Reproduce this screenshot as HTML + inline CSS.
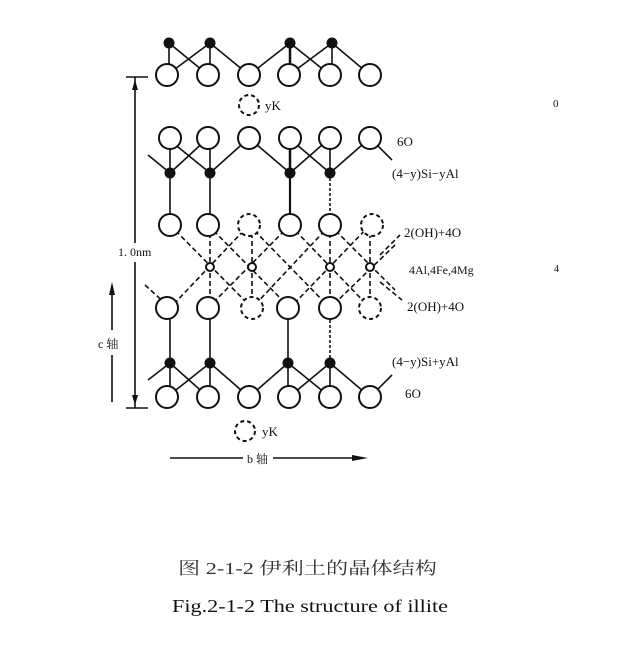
<!DOCTYPE html>
<html><head><meta charset="utf-8"><style>
body{margin:0;background:#fff;width:631px;height:648px;overflow:hidden}
text{font-family:"Liberation Serif","Noto Serif CJK SC",serif;fill:#111}
</style></head><body>
<svg width="631" height="648" viewBox="0 0 631 648" xmlns="http://www.w3.org/2000/svg">
<g stroke="#111" stroke-width="1.6" fill="none">
<line x1="169" y1="43" x2="169" y2="75"/><line x1="169" y1="43" x2="208" y2="75"/>
<line x1="210" y1="43" x2="210" y2="75"/><line x1="210" y1="43" x2="167" y2="75"/><line x1="210" y1="43" x2="249" y2="75"/>
<line x1="290" y1="43" x2="290" y2="75" stroke-width="2.5"/><line x1="290" y1="43" x2="249" y2="75"/><line x1="290" y1="43" x2="330" y2="75"/>
<line x1="332" y1="43" x2="332" y2="75"/><line x1="332" y1="43" x2="289" y2="75"/><line x1="332" y1="43" x2="370" y2="75"/>
<line x1="148" y1="155" x2="170" y2="173"/>
<line x1="170" y1="173" x2="170" y2="138"/><line x1="170" y1="173" x2="208" y2="138"/>
<line x1="210" y1="173" x2="210" y2="138"/><line x1="210" y1="173" x2="167" y2="138"/><line x1="210" y1="173" x2="249" y2="138"/>
<line x1="290" y1="173" x2="290" y2="138" stroke-width="2.5"/><line x1="290" y1="173" x2="249" y2="138"/><line x1="290" y1="173" x2="330" y2="138"/>
<line x1="330" y1="173" x2="330" y2="138"/><line x1="330" y1="173" x2="289" y2="138"/><line x1="330" y1="173" x2="370" y2="138"/>
<line x1="370" y1="138" x2="392" y2="160"/>
<line x1="170" y1="173" x2="170" y2="225"/><line x1="210" y1="173" x2="210" y2="225"/>
<line x1="290" y1="173" x2="290" y2="225" stroke-width="2.2"/><line x1="330" y1="173" x2="330" y2="225" stroke-dasharray="3 2"/>
<line x1="148" y1="380" x2="170" y2="363"/>
<line x1="170" y1="363" x2="170" y2="397"/><line x1="170" y1="363" x2="208" y2="397"/>
<line x1="210" y1="363" x2="210" y2="397"/><line x1="210" y1="363" x2="167" y2="397"/><line x1="210" y1="363" x2="249" y2="397"/>
<line x1="288" y1="363" x2="288" y2="397"/><line x1="288" y1="363" x2="249" y2="397"/><line x1="288" y1="363" x2="330" y2="397"/>
<line x1="330" y1="363" x2="330" y2="397"/><line x1="330" y1="363" x2="289" y2="397"/><line x1="330" y1="363" x2="370" y2="397"/>
<line x1="370" y1="397" x2="392" y2="375"/>
<line x1="170" y1="363" x2="170" y2="308"/><line x1="210" y1="363" x2="210" y2="308"/>
<line x1="288" y1="363" x2="288" y2="308"/><line x1="330" y1="363" x2="330" y2="308" stroke-dasharray="3 2"/>
</g>
<g stroke="#111" stroke-width="1.6" fill="none" stroke-dasharray="5 3">
<line x1="145" y1="285" x2="167" y2="305"/>
<line x1="170" y1="225" x2="252" y2="308"/><line x1="208" y1="225" x2="290" y2="308"/>
<line x1="249" y1="225" x2="330" y2="308"/><line x1="290" y1="225" x2="370" y2="308"/>
<line x1="330" y1="225" x2="395" y2="290"/>
<line x1="249" y1="225" x2="170" y2="308"/><line x1="290" y1="225" x2="208" y2="308"/>
<line x1="330" y1="225" x2="252" y2="308"/><line x1="370" y1="225" x2="290" y2="308"/>
<line x1="395" y1="245" x2="330" y2="308"/>
<line x1="210" y1="225" x2="210" y2="308"/><line x1="252" y1="225" x2="252" y2="308"/>
<line x1="330" y1="225" x2="330" y2="308"/><line x1="370" y1="225" x2="370" y2="308"/>
<line x1="380" y1="255" x2="400" y2="235"/><line x1="380" y1="282" x2="402" y2="300"/>
</g>
<g stroke="#111" stroke-width="2" fill="#fff">
<circle cx="167" cy="75" r="11"/><circle cx="208" cy="75" r="11"/><circle cx="249" cy="75" r="11"/><circle cx="289" cy="75" r="11"/><circle cx="330" cy="75" r="11"/><circle cx="370" cy="75" r="11"/>
<circle cx="170" cy="138" r="11"/><circle cx="208" cy="138" r="11"/><circle cx="249" cy="138" r="11"/><circle cx="290" cy="138" r="11"/><circle cx="330" cy="138" r="11"/><circle cx="370" cy="138" r="11"/>
<circle cx="170" cy="225" r="11"/><circle cx="208" cy="225" r="11"/><circle cx="290" cy="225" r="11"/><circle cx="330" cy="225" r="11"/>
<circle cx="167" cy="308" r="11"/><circle cx="208" cy="308" r="11"/><circle cx="288" cy="308" r="11"/><circle cx="330" cy="308" r="11"/>
<circle cx="167" cy="397" r="11"/><circle cx="208" cy="397" r="11"/><circle cx="249" cy="397" r="11"/><circle cx="289" cy="397" r="11"/><circle cx="330" cy="397" r="11"/><circle cx="370" cy="397" r="11"/>
</g>
<g stroke="#111" stroke-width="2" fill="#fff" stroke-dasharray="4 3">
<circle cx="249" cy="105" r="10"/><circle cx="249" cy="225" r="11"/><circle cx="372" cy="225" r="11"/>
<circle cx="252" cy="308" r="11"/><circle cx="370" cy="308" r="11"/><circle cx="245" cy="431" r="10"/>
</g>
<g stroke="#111" stroke-width="2" fill="#fff">
<circle cx="210" cy="267" r="4"/><circle cx="252" cy="267" r="4"/><circle cx="330" cy="267" r="4"/><circle cx="370" cy="267" r="4"/>
</g>
<g fill="#111">
<circle cx="169" cy="43" r="5.5"/><circle cx="210" cy="43" r="5.5"/><circle cx="290" cy="43" r="5.5"/><circle cx="332" cy="43" r="5.5"/>
<circle cx="170" cy="173" r="5.5"/><circle cx="210" cy="173" r="5.5"/><circle cx="290" cy="173" r="5.5"/><circle cx="330" cy="173" r="5.5"/>
<circle cx="170" cy="363" r="5.5"/><circle cx="210" cy="363" r="5.5"/><circle cx="288" cy="363" r="5.5"/><circle cx="330" cy="363" r="5.5"/>
</g>
<g stroke="#111" stroke-width="1.6" fill="none">
<line x1="126" y1="77" x2="148" y2="77"/><line x1="135" y1="77" x2="135" y2="243"/><line x1="135" y1="262" x2="135" y2="408"/>
<line x1="126" y1="408" x2="148" y2="408"/>
<line x1="112" y1="290" x2="112" y2="330"/><line x1="112" y1="355" x2="112" y2="402"/>
<line x1="170" y1="458" x2="243" y2="458"/><line x1="273" y1="458" x2="355" y2="458"/>
</g>
<g fill="#111">
<polygon points="135,80 132,90 138,90"/><polygon points="135,405 132,395 138,395"/>
<polygon points="112,282 109,295 115,295"/><polygon points="368,458 352,455 352,461"/>
</g>
<g font-size="13">
<text x="265" y="110">yK</text><text x="262" y="436">yK</text>
<text x="118" y="256" font-size="12">1. 0nm</text>
<text x="98" y="348" font-size="12">c 轴</text>
<text x="247" y="463" font-size="12">b 轴</text>
<text x="397" y="146">6O</text>
<text x="392" y="178">(4−y)Si−yAl</text>
<text x="404" y="237">2(OH)+4O</text>
<text x="409" y="274" font-size="12">4Al,4Fe,4Mg</text>
<text x="407" y="311">2(OH)+4O</text>
<text x="392" y="366">(4−y)Si+yAl</text>
<text x="405" y="398">6O</text>
<text x="553" y="107" font-size="11">0</text>
<text x="554" y="272" font-size="10">4</text>
</g>
<text x="178" y="574" font-size="17" textLength="259" lengthAdjust="spacingAndGlyphs" style="fill:#333">图 2-1-2 伊利土的晶体结构</text>
<text x="172" y="612" font-size="18" textLength="276" lengthAdjust="spacingAndGlyphs">Fig.2-1-2 The structure of illite</text>
</svg>
</body></html>
